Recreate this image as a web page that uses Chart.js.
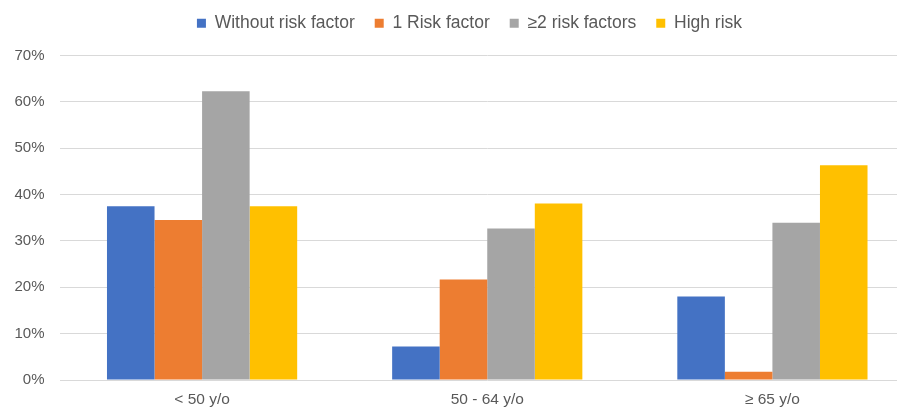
<!DOCTYPE html>
<html>
<head>
<meta charset="utf-8">
<script src="https://cdn.jsdelivr.net/npm/chart.js@4/dist/chart.umd.min.js"></script>
<style>
  html, body { margin: 0; padding: 0; background: #fff; overflow: hidden; }
  #wrap { width: 915px; height: 409px; }
</style>
</head>
<body>
<div id="wrap"><canvas id="c" width="915" height="409"></canvas></div>
<script>
const categories = ['< 50 y/o', '50 - 64 y/o', '\u2265 65 y/o'];
const seriesNames = ['Without risk factor', '1 Risk factor', '\u22652 risk factors', 'High risk'];
const withoutRisk = [37.5, 7.2, 18.0];
const oneRisk = [34.5, 21.7, 1.8];
const twoPlusRisk = [62.3, 32.7, 33.9];
const highRisk = [37.5, 38.1, 46.3];
const yTicks = [0, 10, 20, 30, 40, 50, 60, 70];

const colors = ['#4472C4', '#ED7D31', '#A5A5A5', '#FFC000'];
const seriesValues = [withoutRisk, oneRisk, twoPlusRisk, highRisk];
const textColor = '#595959';
const font = 'Liberation Sans, Arial, sans-serif';

const legendShift = {
  id: 'legendShift',
  afterLayout(chart) {
    const lg = chart.legend;
    if (!lg) return;
    const dx = 12, dy = -13.5;
    lg.left += dx; lg.right += dx;
    lg.top += dy; lg.bottom += dy;
  }
};

new Chart(document.getElementById('c'), {
  type: 'bar',
  data: {
    labels: categories,
    datasets: seriesNames.map((name, i) => ({
      label: name,
      data: seriesValues[i],
      backgroundColor: colors[i],
      borderWidth: 0,
      categoryPercentage: 0.667,
      barPercentage: 1.0
    }))
  },
  plugins: [legendShift],
  options: {
    responsive: false,
    animation: false,
    layout: { padding: { left: 0, right: 0, top: 8, bottom: 0 } },
    plugins: {
      tooltip: { enabled: false },
      legend: {
        position: 'top',
        align: 'center',
        labels: {
          boxWidth: 9,
          boxHeight: 9,
          padding: 20,
          color: textColor,
          font: { family: font, size: 17.5 }
        }
      }
    },
    scales: {
      x: {
        grid: { display: false, drawTicks: false },
        border: { display: false },
        ticks: { color: textColor, font: { family: font, size: 15.5 }, padding: 10 },
        afterFit: (s) => { s.height = 29; }
      },
      y: {
        min: 0,
        max: 70,
        afterBuildTicks: (s) => { s.ticks = yTicks.map(v => ({ value: v })); },
        grid: { color: '#D9D9D9', lineWidth: 1, drawTicks: false },
        border: { display: false },
        ticks: {
          color: textColor,
          font: { family: font, size: 15 },
          padding: 15,
          callback: (v) => v + '%'
        },
        afterFit: (s) => { s.width = 59.5; }
      }
    }
  }
});
</script>
</body>
</html>
